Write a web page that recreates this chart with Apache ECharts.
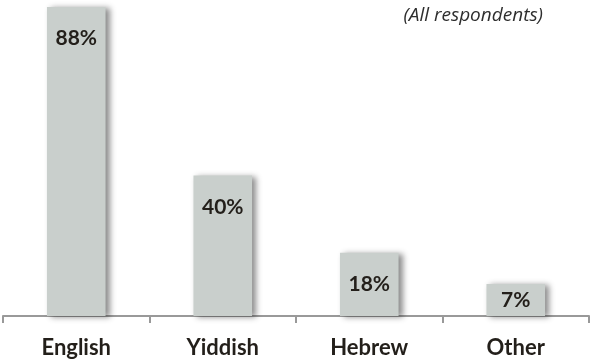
<!DOCTYPE html>
<html><head><meta charset="utf-8">
<script src="https://cdn.jsdelivr.net/npm/echarts@6/dist/echarts.min.js"></script>
<style>html,body{margin:0;padding:0;background:#fff}#c{width:592px;height:364px}</style>
</head><body><div id="c"></div>
<script>
const categories = ['English', 'Yiddish', 'Hebrew', 'Other'];
const values = [88, 40, 18, 7];
const subtitle = '(All respondents)';

const chart = echarts.init(document.getElementById('c'), null, {renderer: 'canvas'});
const font = 'Lato, "Open Sans", sans-serif';
chart.setOption({
  animation: false,
  title: {
    text: subtitle, right: 44, top: 1,
    textStyle: {fontFamily: '"Open Sans", sans-serif', fontStyle: 'italic', fontWeight: 'normal', fontSize: 19, color: '#2e2e2e'}
  },
  grid: {left: 3, right: 3, top: 0, bottom: 48},
  xAxis: {
    type: 'category', data: categories,
    axisLine: {lineStyle: {color: '#999', width: 2}},
    axisTick: {show: true, length: 7, inside: false, lineStyle: {color: '#999', width: 2}},
    axisLabel: {margin: 21, fontFamily: font, fontWeight: 'bold', fontSize: 22, color: '#231f1a'}
  },
  yAxis: {type: 'value', min: 0, max: 90, show: false, splitLine: {show: false}},
  series: [{
    type: 'bar',
    data: values.map((v, i) => i === values.length - 1 ? {value: v, label: {position: 'inside'}} : v),
    barWidth: '40%',
    barMinHeight: 32,
    itemStyle: {color: '#c9cfcc', shadowColor: 'rgba(0,0,0,0.45)', shadowBlur: 6, shadowOffsetX: 4, shadowOffsetY: 1},
    label: {
      show: true, position: 'insideTop', distance: 21,
      formatter: p => p.value + '%',
      fontFamily: font, fontWeight: 'bold', fontSize: 21, color: '#231f1a'
    }
  }]
});
</script></body></html>
